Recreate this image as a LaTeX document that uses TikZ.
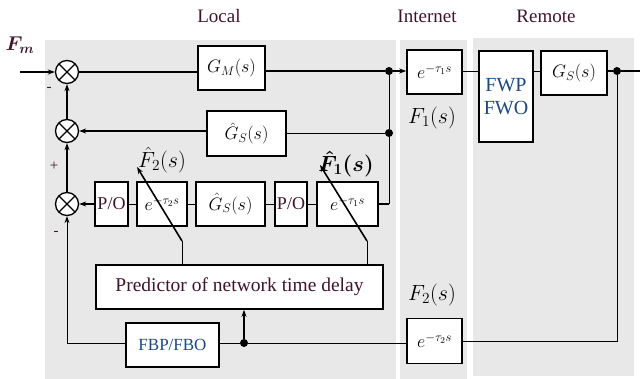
\RequirePackage{fix-cm}
\documentclass[tikz,border=0pt]{standalone}
\usepackage{amsmath}
\usepackage{fontspec}
\setmainfont{Liberation Serif}
\usetikzlibrary{arrows.meta}
\definecolor{panel}{RGB}{232,232,232}
\definecolor{lbl}{RGB}{62,22,42}
\definecolor{wblue}{RGB}{31,73,125}
\begin{document}
\begin{tikzpicture}[x=1pt,y=-1pt,
    blk/.style={draw, line width=1.6pt, fill=white, inner sep=0pt, font=\fontsize{18}{20}\selectfont},
    sum/.style={draw, circle, line width=1.3pt, fill=white, minimum size=23pt, inner sep=0pt,
        path picture={\draw[line width=1.3pt] (path picture bounding box.north west) -- (path picture bounding box.south east)
            (path picture bounding box.north east) -- (path picture bounding box.south west);}},
    dot/.style={circle, fill, inner sep=0pt, minimum size=8pt},
    thk/.style={line width=1.6pt},
    thn/.style={line width=0.9pt},
    arr/.style={-{Stealth[length=7pt,width=5pt]}},
    head/.style={text=lbl, font=\fontsize{19}{20}\selectfont},
    flbl/.style={font=\fontsize{22}{24}\selectfont},
    sgn/.style={text=lbl, font=\fontsize{15}{16}\selectfont}]
            \useasboundingbox (0,0) rectangle (640,379);
            \fill[panel] (45,40) rectangle (396,379);
            \fill[panel] (400,40) rectangle (467,379);
            \fill[panel] (473,38) rectangle (634,376);

            \node[head] (local) at (219,16) {Local};
            \node[head] (inet) at (427,16) {Internet};
            \node[head] (remote) at (546,16) {Remote};

            \node[text=lbl, font=\fontsize{20}{22}\selectfont] (fm) at (20,45) {$\boldsymbol{F_m}$};
            \coordinate (in) at (20,72);
            \coordinate (out) at (640,71);

            \node[sum] (s1) at (67,72) {};
            \node[sum] (s2) at (67,131) {};
            \node[sum] (s3) at (67,204) {};

            \node[blk, minimum width=67pt, minimum height=44pt] (gm) at (231.5,68) {$G_M(s)$};
            \node[blk, minimum width=55pt, minimum height=44pt] (t1) at (434.5,72) {$e^{-\tau_1 s}$};
            \node[blk, minimum width=54pt, minimum height=91pt, text=wblue, font=\fontsize{20}{23}\selectfont, align=center] (fwp) at (506,96.5) {FWP\\FWO};
            \node[blk, minimum width=66pt, minimum height=44pt] (gs) at (574,73) {$G_S(s)$};
            \node[blk, minimum width=79pt, minimum height=45pt] (ghs) at (246.5,133.5) {$\hat{G}_S(s)$};

            \node[blk, minimum width=33pt, minimum height=44pt, text=lbl, font=\fontsize{18}{18}\selectfont] (po1) at (111.5,204) {P/O};
            \node[blk, minimum width=50pt, minimum height=44pt] (t2h) at (162,204) {$e^{-\tau_2 s}$};
            \node[blk, minimum width=69pt, minimum height=44pt] (ghs2) at (230.5,204) {$\hat{G}_S(s)$};
            \node[blk, minimum width=32pt, minimum height=44pt, text=lbl, font=\fontsize{18}{18}\selectfont] (po2) at (291,204) {P/O};
            \node[blk, minimum width=61pt, minimum height=44pt] (t1h) at (347.5,204) {$e^{-\tau_1 s}$};

            \node[blk, minimum width=287pt, minimum height=44pt, text=lbl, font=\fontsize{19.5}{20}\selectfont] (pred) at (239.5,287) {Predictor of network time delay};
            \node[blk, minimum width=93pt, minimum height=44pt, text=wblue, font=\fontsize{17}{18}\selectfont] (fbp) at (172.5,345) {FBP/FBO};
            \node[blk, minimum width=55pt, minimum height=45pt] (t2) at (434.5,341) {$e^{-\tau_2 s}$};

            \node[flbl] (f1) at (432,118) {$F_1(s)$};
            \node[flbl] (f2) at (432,295) {$F_2(s)$};
            \node[flbl] (f2h) at (162,160) {$\hat{F}_2(s)$};
            \node[flbl] (f1h) at (346,164) {$\boldsymbol{\hat{F}_1(s)}$};

            \node[dot] (d1) at (389,71) {};
            \node[dot] (d2) at (389,133) {};
            \node[dot] (d3) at (617,71) {};
            \node[dot] (d4) at (244,343) {};
            \coordinate (k0) at (389,204);

            \draw[thk, arr] (in) -- (s1);
            \draw[thk] (s1) -- (gm.west |- s1);
            \draw[thk] (gm.east |- d1) -- (d1);
            \draw[thk, arr] (d1) -- (t1.west |- d1);
            \draw[thn] (t1.east |- d1) -- (fwp.west |- d1);
            \draw[thn] (fwp.east |- d1) -- (gs.west |- d1);
            \draw[thk] (gs.east |- d3) -- (d3) -- (out);
            \draw[thn] (d3) |- (t2.east);
            \draw[thn] (t2.west |- d4) -- (d4) -- (fbp.east |- d4);
            \draw[thn, arr] (fbp.west |- d4) -| (s3);
            \draw[thk, arr] (d4) -- (pred.south -| d4);

            \draw[thn] (d1) -- (d2);
            \draw[thn] (d2) -- (ghs.east |- d2);
            \draw[thk, arr] (ghs.west |- s2) -- (s2);
            \draw[thn] (d2) -- (k0);
            \draw[thk] (k0) -- (t1h.east);

            \draw[thn] (t1h) -- (po2);
            \draw[thn] (po2) -- (ghs2);
            \draw[thn] (ghs2) -- (t2h);
            \draw[thn] (t2h) -- (po1);
            \draw[thk, arr] (po1) -- (s3);
            \draw[thk, arr] (s3) -- (s2);
            \draw[thk, arr] (s2) -- (s1);

            \coordinate (k2) at (182,241);
            \coordinate (k1) at (367,241);
            \coordinate (tip2) at (137,167);
            \coordinate (tip1) at (320,165);
            \draw[thn] (pred.north -| k2) -- (k2);
            \draw[thk, arr] (k2) -- (tip2);
            \draw[thn] (pred.north -| k1) -- (k1);
            \draw[thk, arr] (k1) -- (tip1);

            \node[sgn] (m1) at (49,89) {-};
            \node[sgn] (p2) at (54,166) {+};
            \node[sgn] (m3) at (56,233) {-};
\end{tikzpicture}
\end{document}
